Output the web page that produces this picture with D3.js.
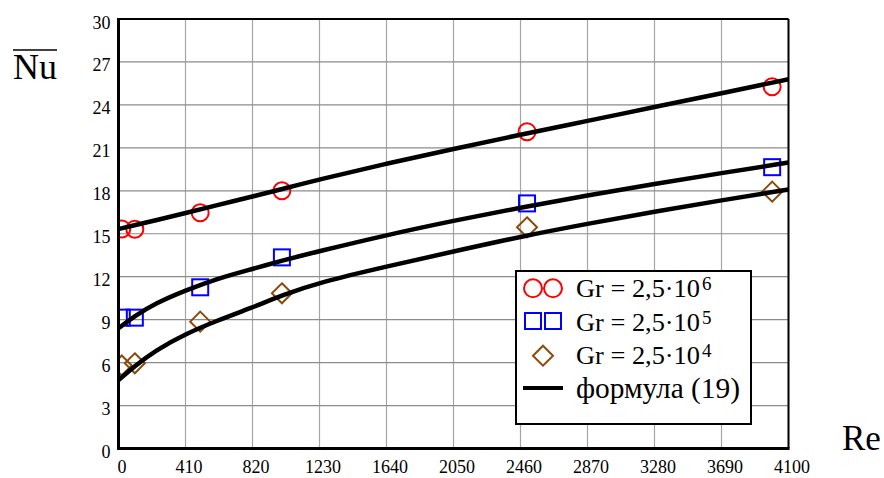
<!DOCTYPE html>
<html>
<head>
<meta charset="utf-8">
<script src="https://cdn.jsdelivr.net/npm/d3@7"></script>
<style>
  body { margin: 0; background: #fff; }
  text { font-family: "Liberation Serif", "Times New Roman", serif; }
</style>
</head>
<body>
<div id="chart"></div>
<script>
// measured points (Re, Nu)
var pointRe = [20, 100, 500, 1000, 2500, 4000];
var nuGr6 = [15.33, 15.31, 16.47, 18.0, 22.13, 25.27];
var nuGr5 = [9.14, 9.14, 11.26, 13.35, 17.12, 19.65];
var nuGr4 = [5.8, 5.95, 8.86, 10.84, 15.45, 17.94];

// formula (19) curves
var curveRe = [0, 100, 225, 410, 600, 820, 1000, 1230, 1640, 2050, 2460, 2870, 3280, 3690, 4100];
var curveGr6 = [15.33, 15.6, 15.93, 16.45, 16.98, 17.6, 18.12, 18.8, 19.9, 20.93, 21.92, 22.88, 23.85, 24.81, 25.79];
var curveGr5 = [8.4, 9.25, 10.14, 11.04, 11.85, 12.54, 13.12, 13.79, 14.91, 15.91, 16.83, 17.68, 18.48, 19.24, 19.97];
var curveGr4 = [4.78, 5.76, 6.85, 8.0, 8.92, 9.85, 10.7, 11.6, 12.71, 13.76, 14.8, 15.7, 16.54, 17.34, 18.09];

var xTicks = [0, 410, 820, 1230, 1640, 2050, 2460, 2870, 3280, 3690, 4100];
var yTicks = [0, 3, 6, 9, 12, 15, 18, 21, 24, 27, 30];

var legendLabels = ["Gr = 2,5\u00b710", "Gr = 2,5\u00b710", "Gr = 2,5\u00b710", "формула (19)"];
var legendPowers = ["6", "5", "4", ""];

var W = 884, H = 478;
var margin = {top: 19, right: 95.5, bottom: 29.5, left: 118.5};
var width = W - margin.left - margin.right,
    height = H - margin.top - margin.bottom;

var svg = d3.select("#chart").append("svg")
    .attr("width", W)
    .attr("height", H);

var g = svg.append("g")
    .attr("transform", "translate(" + margin.left + "," + margin.top + ")");

var xScale = d3.scaleLinear().domain([0, 4100]).range([0, width]);
var yScale = d3.scaleLinear().domain([0, 30]).range([height, 0]);

// --- GRID ---
g.append("g")
    .selectAll("line")
    .data(xTicks)
    .enter().append("line")
    .attr("x1", d => xScale(d)).attr("x2", d => xScale(d))
    .attr("y1", 0).attr("y2", height)
    .attr("stroke", "#a6a6a6")
    .attr("stroke-width", 1.2);
g.append("g")
    .selectAll("line")
    .data(yTicks)
    .enter().append("line")
    .attr("x1", 0).attr("x2", width)
    .attr("y1", d => yScale(d)).attr("y2", d => yScale(d))
    .attr("stroke", "#8c8c8c")
    .attr("stroke-width", 1.2);

// --- AXES (labels only) ---
var xAxis = g.append("g")
    .attr("transform", "translate(0," + height + ")")
    .call(d3.axisBottom(xScale).tickValues(xTicks).tickSize(0).tickFormat(d3.format("d")));
xAxis.select(".domain").remove();
xAxis.selectAll("text")
    .attr("font-size", "18px")
    .attr("fill", "#000")
    .attr("dx", 3)
    .attr("y", 24.5)
    .attr("dy", 0);

var yAxis = g.append("g")
    .call(d3.axisLeft(yScale).tickValues(yTicks).tickSize(0));
yAxis.select(".domain").remove();
yAxis.selectAll("text")
    .attr("font-size", "18px")
    .attr("fill", "#000")
    .attr("x", -8)
    .attr("dy", 0)
    .attr("y", 9);

// --- MARKERS ---
g.append("clipPath").attr("id", "plotClip")
    .append("rect").attr("width", width).attr("height", height);
var marks = g.append("g").attr("clip-path", "url(#plotClip)");

marks.selectAll(".c6")
    .data(pointRe.map((r, i) => [r, nuGr6[i]]))
    .enter().append("circle")
    .attr("cx", d => xScale(d[0]))
    .attr("cy", d => yScale(d[1]))
    .attr("r", 8.5)
    .attr("fill", "none")
    .attr("stroke", "#ff0000")
    .attr("stroke-width", 2);

marks.selectAll(".s5")
    .data(pointRe.map((r, i) => [r, nuGr5[i]]))
    .enter().append("rect")
    .attr("x", d => xScale(d[0]) - 8)
    .attr("y", d => yScale(d[1]) - 8)
    .attr("width", 16).attr("height", 16)
    .attr("fill", "none")
    .attr("stroke", "#0000ff")
    .attr("stroke-width", 2);

var diamond = function(cx, cy) {
    var s = 10;
    return "M" + cx + "," + (cy - s) + "L" + (cx + s) + "," + cy + "L" + cx + "," + (cy + s) + "L" + (cx - s) + "," + cy + "Z";
};
marks.selectAll(".d4")
    .data(pointRe.map((r, i) => [r, nuGr4[i]]))
    .enter().append("path")
    .attr("d", d => diamond(xScale(d[0]), yScale(d[1])))
    .attr("fill", "none")
    .attr("stroke", "#8b4a0c")
    .attr("stroke-width", 2);

// --- CURVES ---
var line = d3.line()
    .x(d => xScale(d[0]))
    .y(d => yScale(d[1]))
    .curve(d3.curveBasis);

[curveGr6, curveGr5, curveGr4].forEach(function(series) {
    marks.append("path")
        .datum(curveRe.map((r, i) => [r, series[i]]))
        .attr("fill", "none")
        .attr("stroke", "#000")
        .attr("stroke-width", 4.5)
        .attr("stroke-linecap", "round")
        .attr("d", line);
});

// --- FRAME ---
g.append("line").attr("x1", 0).attr("x2", width).attr("y1", 0).attr("y2", 0)
    .attr("stroke", "#000").attr("stroke-width", 2);
g.append("line").attr("x1", width).attr("x2", width).attr("y1", 0).attr("y2", height)
    .attr("stroke", "#000").attr("stroke-width", 2);
g.append("line").attr("x1", -1.5).attr("x2", width + 1).attr("y1", height).attr("y2", height)
    .attr("stroke", "#000").attr("stroke-width", 3);
g.append("line").attr("x1", 0).attr("x2", 0).attr("y1", -1).attr("y2", height + 1.5)
    .attr("stroke", "#000").attr("stroke-width", 3);

// --- LEGEND ---
var legend = svg.append("g").attr("transform", "translate(516,271)");
legend.append("rect")
    .attr("width", 235).attr("height", 153)
    .attr("fill", "#fff")
    .attr("stroke", "#000")
    .attr("stroke-width", 2);

var symY = [17.3, 50, 84.7, 117];
var baseY = [25.7, 60, 93, 127];
var textLen = [124, 124, 124, 164];
var textSize = [25, 25, 25, 29];

legend.append("circle").attr("cx", 17).attr("cy", symY[0]).attr("r", 9)
    .attr("fill", "none").attr("stroke", "#ff0000").attr("stroke-width", 2);
legend.append("circle").attr("cx", 37).attr("cy", symY[0]).attr("r", 9)
    .attr("fill", "none").attr("stroke", "#ff0000").attr("stroke-width", 2);
legend.append("rect").attr("x", 9).attr("y", symY[1] - 8).attr("width", 16).attr("height", 16)
    .attr("fill", "none").attr("stroke", "#0000ff").attr("stroke-width", 2);
legend.append("rect").attr("x", 29).attr("y", symY[1] - 8).attr("width", 16).attr("height", 16)
    .attr("fill", "none").attr("stroke", "#0000ff").attr("stroke-width", 2);
legend.append("path").attr("d", diamond(27, symY[2]))
    .attr("fill", "none").attr("stroke", "#8b4a0c").attr("stroke-width", 2);
legend.append("line").attr("x1", 7).attr("x2", 47).attr("y1", symY[3]).attr("y2", symY[3])
    .attr("stroke", "#000").attr("stroke-width", 4);

legendLabels.forEach(function(label, i) {
    legend.append("text")
        .attr("x", 60)
        .attr("y", baseY[i])
        .attr("font-size", textSize[i] + "px")
        .attr("textLength", textLen[i])
        .attr("lengthAdjust", "spacingAndGlyphs")
        .attr("fill", "#000")
        .text(label);
    if (legendPowers[i]) {
        legend.append("text")
            .attr("x", 186)
            .attr("y", baseY[i] - 7)
            .attr("font-size", "19px")
            .attr("fill", "#000")
            .text(legendPowers[i]);
    }
});

// --- AXIS TITLES ---
svg.append("text")
    .attr("x", 13).attr("y", 79)
    .attr("font-size", "36px")
    .attr("fill", "#000")
    .text("Nu");
svg.append("line")
    .attr("x1", 13).attr("x2", 57).attr("y1", 50).attr("y2", 50)
    .attr("stroke", "#000").attr("stroke-width", 1.5);
svg.append("text")
    .attr("x", 842).attr("y", 450)
    .attr("font-size", "35px")
    .attr("fill", "#000")
    .text("Re");
</script>
</body>
</html>
